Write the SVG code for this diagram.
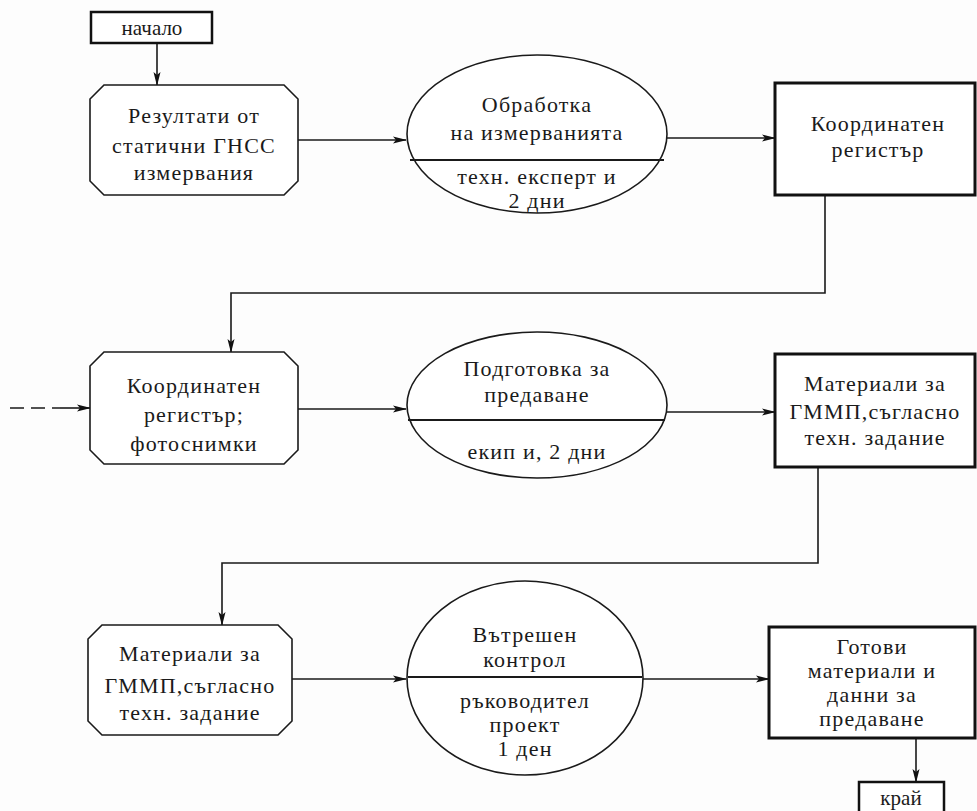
<svg xmlns="http://www.w3.org/2000/svg" width="977" height="811" viewBox="0 0 977 811">
  <defs>
    <marker id="arrow" markerWidth="14" markerHeight="8" refX="13" refY="4" orient="auto" markerUnits="userSpaceOnUse">
      <path d="M0,0.5 L14,4 L0,7.5 L3,4 z" fill="#111"/>
    </marker>
    <style>
      text { font-family: "Liberation Serif", "DejaVu Serif", serif; fill: #1a1a1a; text-anchor: middle; dominant-baseline: central; }
      .lbl { font-size: 22px; letter-spacing: 1.2px; }
      .term { font-size: 21px; }
      .oct, .ell { fill: #fff; stroke: #1a1a1a; stroke-width: 1.6; }
      .box { fill: #fff; stroke: #111; stroke-width: 3; }
      .tbox { fill: #fff; stroke: #111; stroke-width: 2.5; }
      .div { stroke: #1a1a1a; stroke-width: 1.8; }
      .conn { fill: none; stroke: #1a1a1a; stroke-width: 1.6; }
      .dash { fill: none; stroke: #1a1a1a; stroke-width: 1.6; stroke-dasharray: 14 7; }
    </style>
  </defs>
  <rect width="977" height="811" fill="#fdfdfd"/>

  <!-- connectors -->
  <g id="connectors">
    <path class="conn" d="M157,43 V85" marker-end="url(#arrow)"/>
    <path class="conn" d="M298,140 H406" marker-end="url(#arrow)"/>
    <path class="conn" d="M667,138 H775" marker-end="url(#arrow)"/>
    <path class="conn" d="M825,195 V293 H231 V352" marker-end="url(#arrow)"/>
    <path class="dash" d="M10,408 H60"/>
    <path class="conn" d="M60,408 H90" marker-end="url(#arrow)"/>
    <path class="conn" d="M298,409 H406" marker-end="url(#arrow)"/>
    <path class="conn" d="M666,412 H775" marker-end="url(#arrow)"/>
    <path class="conn" d="M818,467 V563 H222 V625" marker-end="url(#arrow)"/>
    <path class="conn" d="M292,679 H406" marker-end="url(#arrow)"/>
    <path class="conn" d="M643,679 H769" marker-end="url(#arrow)"/>
    <path class="conn" d="M916,738 V782" marker-end="url(#arrow)"/>
  </g>

  <!-- start -->
  <g id="start">
    <rect class="tbox" x="91" y="12" width="121" height="31"/>
    <text class="term" x="152" y="28">начало</text>
  </g>

  <!-- row 1 -->
  <g id="gnss-results">
    <path class="oct" d="M104,85 H284 L298,99 V181 L284,195 H104 L90,181 V99 Z"/>
    <text class="lbl" x="194" y="115">Резултати от</text>
    <text class="lbl" x="194" y="145">статични ГНСС</text>
    <text class="lbl" x="194" y="172">измервания</text>
  </g>

  <g id="processing">
    <ellipse class="ell" cx="537" cy="134" rx="130" ry="79"/>
    <line class="div" x1="410" y1="160" x2="664" y2="160"/>
    <text class="lbl" x="537" y="104">Обработка</text>
    <text class="lbl" x="537" y="132">на измерванията</text>
    <text class="lbl" x="537" y="176">техн. експерт и</text>
    <text class="lbl" x="537" y="200">2 дни</text>
  </g>

  <g id="coord-register">
    <rect class="box" x="775" y="83" width="200" height="112"/>
    <text class="lbl" x="878" y="123">Координатен</text>
    <text class="lbl" x="878" y="149">регистър</text>
  </g>

  <!-- row 2 -->
  <g id="register-photos">
    <path class="oct" d="M104,352 H284 L298,366 V450 L284,464 H104 L90,450 V366 Z"/>
    <text class="lbl" x="194" y="385">Координатен</text>
    <text class="lbl" x="194" y="414">регистър;</text>
    <text class="lbl" x="194" y="443">фотоснимки</text>
  </g>

  <g id="handover-prep">
    <ellipse class="ell" cx="537" cy="405" rx="130" ry="73"/>
    <line class="div" x1="408" y1="420" x2="665" y2="420"/>
    <text class="lbl" x="537" y="368">Подготовка за</text>
    <text class="lbl" x="537" y="394">предаване</text>
    <text class="lbl" x="537" y="451">екип и, 2 дни</text>
  </g>

  <g id="materials">
    <rect class="box" x="775" y="354" width="200" height="113"/>
    <text class="lbl" x="875" y="383">Материали за</text>
    <text class="lbl" x="875" y="411">ГМMП,съгласно</text>
    <text class="lbl" x="875" y="437">техн. задание</text>
  </g>

  <!-- row 3 -->
  <g id="materials-in">
    <path class="oct" d="M102,625 H278 L292,639 V721 L278,735 H102 L88,721 V639 Z"/>
    <text class="lbl" x="190" y="653">Материали за</text>
    <text class="lbl" x="190" y="685">ГМMП,съгласно</text>
    <text class="lbl" x="190" y="712">техн. задание</text>
  </g>

  <g id="internal-control">
    <ellipse class="ell" cx="525" cy="678" rx="118" ry="97"/>
    <line class="div" x1="408" y1="677" x2="642" y2="677"/>
    <text class="lbl" x="525" y="634">Вътрешен</text>
    <text class="lbl" x="525" y="659">контрол</text>
    <text class="lbl" x="525" y="700">ръководител</text>
    <text class="lbl" x="525" y="724">проект</text>
    <text class="lbl" x="525" y="748">1 ден</text>
  </g>

  <g id="ready-materials">
    <rect class="box" x="769" y="627" width="206" height="111"/>
    <text class="lbl" x="872" y="646">Готови</text>
    <text class="lbl" x="872" y="670">материали и</text>
    <text class="lbl" x="872" y="694">данни за</text>
    <text class="lbl" x="872" y="718">предаване</text>
  </g>

  <!-- end -->
  <g id="end">
    <rect class="tbox" x="859" y="782" width="85" height="32"/>
    <text class="term" x="901" y="798">край</text>
  </g>
</svg>
